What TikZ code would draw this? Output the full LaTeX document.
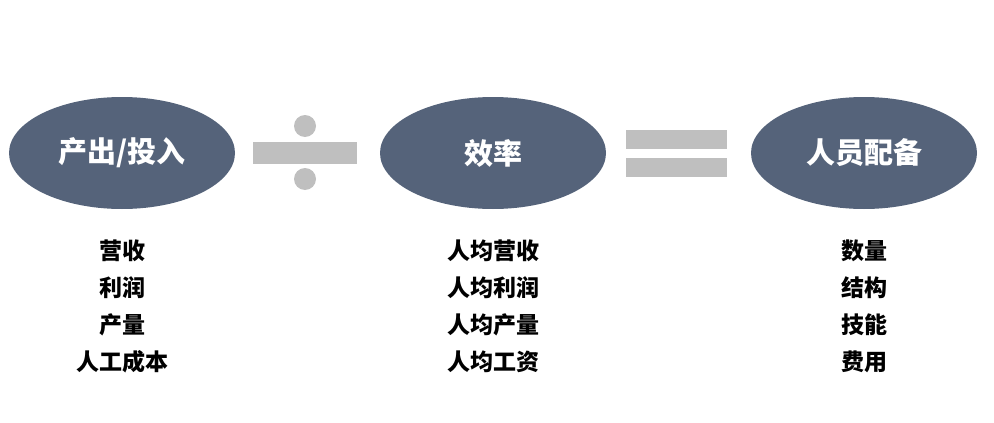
\documentclass[tikz,border=0pt]{standalone}
\usepackage{fontspec}
\newfontfamily\cjk{Noto Sans CJK SC}
\usetikzlibrary{shapes.geometric, positioning}
\definecolor{slate}{HTML}{55637A}
\definecolor{opgray}{HTML}{BFBFBF}

\begin{document}
\begin{tikzpicture}[
    x=1pt, y=-1pt,
    term/.style={ellipse, fill=slate, minimum width=226pt, minimum height=112pt,
                 inner sep=0pt, text=white, font=\cjk\bfseries\fontsize{29}{32}\selectfont},
    item/.style={inner sep=0pt, text=black, font=\cjk\bfseries\fontsize{23}{26}\selectfont},
    opbar/.style={rectangle, fill=opgray, inner sep=0pt},
    opdot/.style={circle, fill=opgray, minimum size=22pt, inner sep=0pt},
]
\useasboundingbox (0,0) rectangle (994,423);

% ============================================================
% TERMS
% ============================================================
\node[term] (output) at (122, 153) {产出/投入};
\node[term] (effic)  at (493, 153) {效率};
\node[term] (staff)  at (864, 153) {人员配备};

% --- Division sign ---
\node[opbar, minimum width=104pt, minimum height=22pt] (divbar) at (305, 153) {};
\node[opdot] (divtop) at (305, 126) {};
\node[opdot] (divbot) at (305, 179) {};

% --- Equals sign ---
\node[opbar, minimum width=101pt, minimum height=19pt] (eqtop) at (676.5, 139.5) {};
\node[opbar, minimum width=101pt, minimum height=19pt] (eqbot) at (676.5, 167.5) {};

% ============================================================
% ITEMS
% ============================================================
\foreach \txt [count=\i] in {营收, 利润, 产量, 人工成本}
    \node[item] (out\i) at (122, 214+37*\i) {\txt};

\foreach \txt [count=\i] in {人均营收, 人均利润, 人均产量, 人均工资}
    \node[item] (eff\i) at (493, 214+37*\i) {\txt};

\foreach \txt [count=\i] in {数量, 结构, 技能, 费用}
    \node[item] (stf\i) at (864, 214+37*\i) {\txt};

\end{tikzpicture}
\end{document}
